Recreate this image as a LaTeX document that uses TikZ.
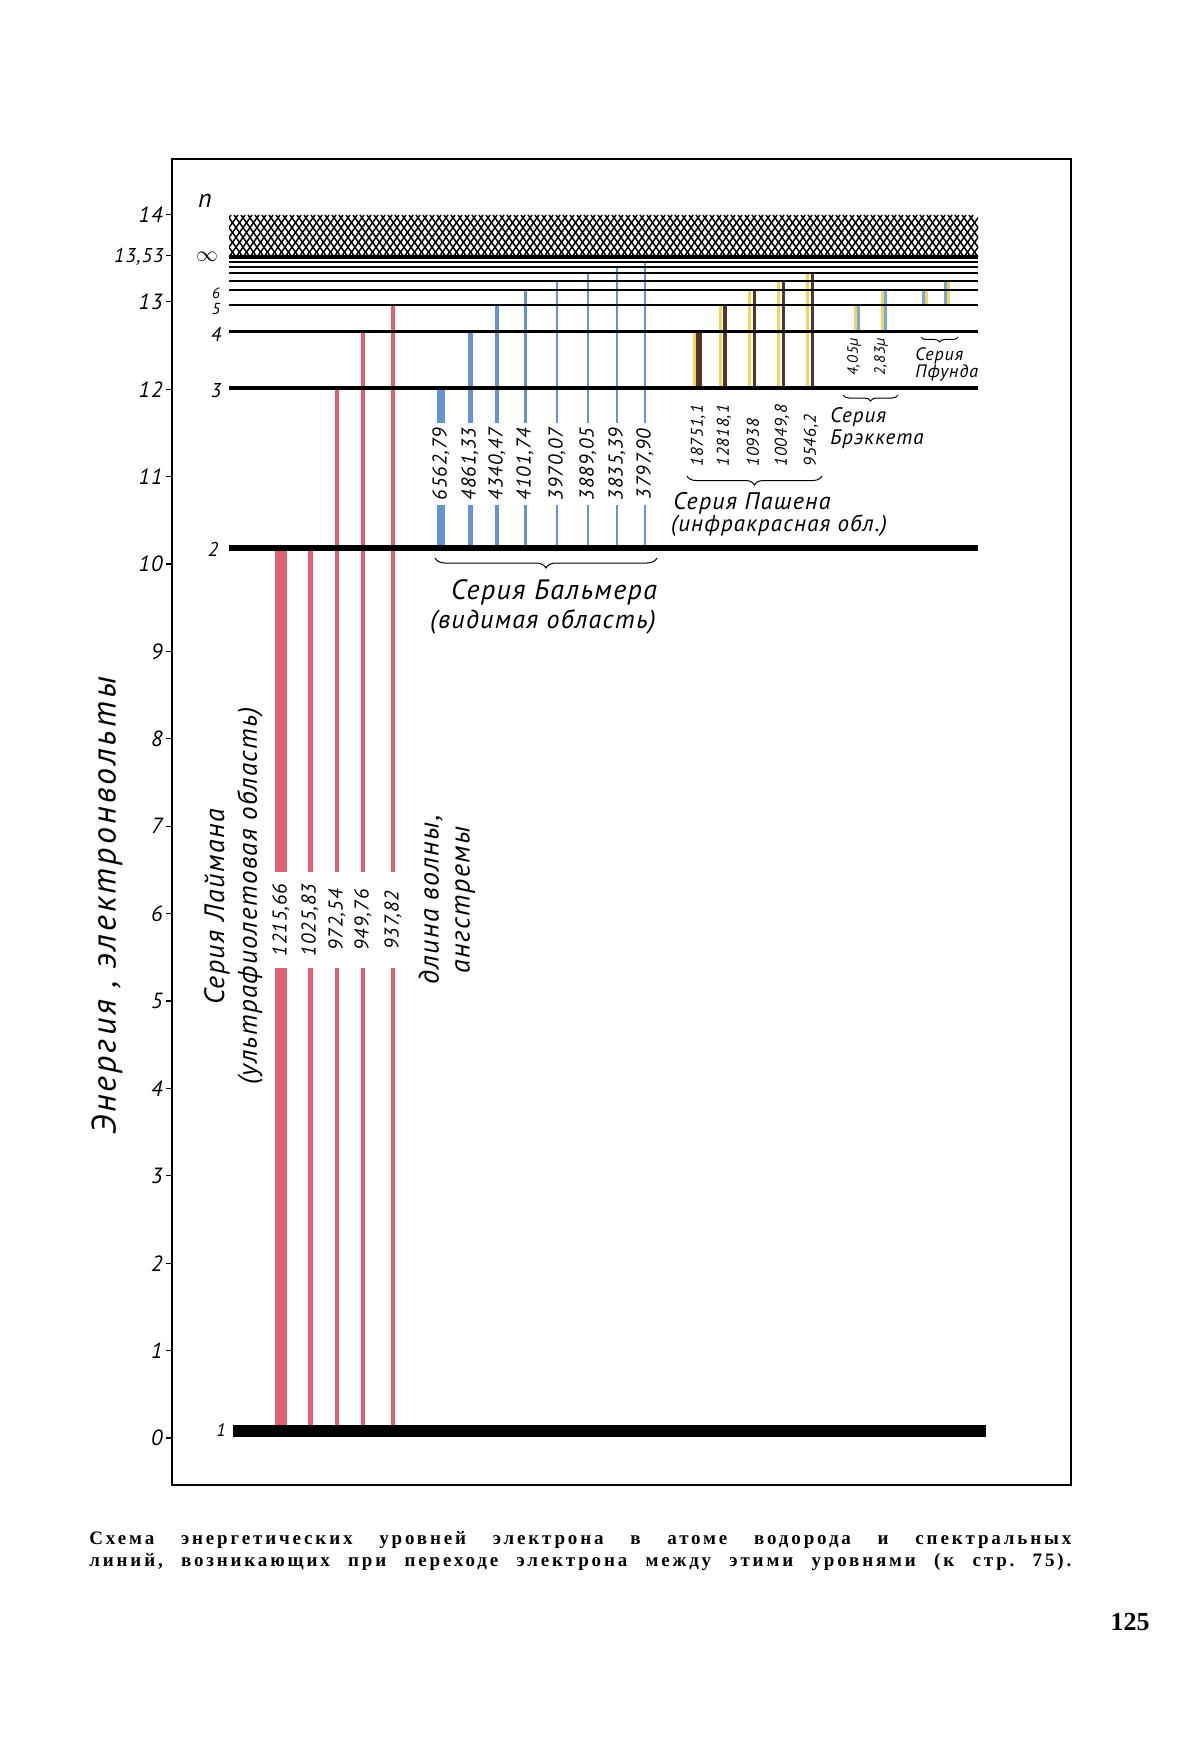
\documentclass[tikz,border=0pt]{standalone}
\usepackage{fontspec}
\setmainfont{Liberation Serif}
\newfontfamily\gost[LetterSpace=5]{PT Sans}
\usetikzlibrary{decorations.pathreplacing}

\definecolor{lyman}{RGB}{224,96,112}
\definecolor{balmer}{RGB}{98,148,212}
\definecolor{pbrown}{RGB}{88,52,40}
\definecolor{pyellow}{RGB}{242,214,92}
\definecolor{bblue}{RGB}{120,168,222}
\newcommand{\gf}[2]{\gost\itshape\fontsize{#1}{#2}\selectfont}

\begin{document}
\frenchspacing
\begin{tikzpicture}[x=0.5pt,y=-0.5pt,
    lbl/.style={inner sep=0pt,font=\gf{10}{10}},
    wave/.style={inner sep=0pt,rotate=90,font=\gf{10}{10}},
    brc/.style={decorate,decoration={brace,mirror,amplitude=#1},line width=0.5pt},
    hatch/.style={line width=0.75pt}]
\fill[white] (0,0) rectangle (1200,1738);
\useasboundingbox (0,0) rectangle (1200,1738);
\draw[line width=0.7pt] (172,159) rectangle (1071,1485);

% energy axis
\foreach \e in {0,...,14}{
  \draw[line width=0.6pt] (166,{1438-87.4*\e}) -- (173,{1438-87.4*\e});
  \node[lbl,anchor=east,font=\gf{11}{11}] (t\e) at (163,{1438-87.4*\e}) {\e};
}
\draw[line width=0.6pt] (166,255.5) -- (173,255.5);
\node[lbl,anchor=east] (tion) at (164,257) {13,53};
\node[lbl,rotate=90,font=\gf{17}{17}\addfontfeatures{LetterSpace=9}] (energy) at (107,906) {Энергия , электронвольты};

% continuum
\begin{scope}
  \clip (229,200) rectangle (978,258);
  \foreach \k in {-5,...,110}{
    \draw[hatch] ({229+7*\k},257) -- ++(30,-42);
    \draw[hatch] ({229+7*\k},257) -- ++(-30,-42);
  }
\end{scope}

% Lyman
\foreach \x/\yt/\w/\lab [count=\i] in {281/550/6pt/{1215,66},310/550/2.5pt/{1025,83},337/388/2pt/{972,54},363/332/2pt/{949,76},393/305/1.7pt/{937,82}}{
  \node[wave,minimum width=47.5pt] (ly\i) at (\x,920) {\lab};
  \draw[lyman,line width=\w] (\x,\yt) -- (ly\i.east);
  \draw[lyman,line width=\w] (ly\i.west) -- (\x,1428);
}
\node[lbl,rotate=90,font=\gf{14}{14}] (lyman) at (217,907) {Серия Лаймана};
\node[lbl,rotate=90,font=\gf{13.5}{13.5}] (lymanuv) at (250,896) {(ультрафиолетовая область)};
\node[lbl,rotate=90,align=center,font=\gf{14}{15.5}] (wl) at (447,900) {длина волны,\\ангстремы};

% Balmer
\foreach \x/\yt/\w/\lab [count=\i] in {441/389/4pt/{6562,79},470/333/2.5pt/{4861,33},497/306/2pt/{4340,47},525/291/1.5pt/{4101,74},557/282/1.4pt/{3970,07},588/274/1.4pt/{3889,05},617/268/1.4pt/{3835,39},645/263/1.4pt/{3797,90}}{
  \node[wave,minimum width=41pt] (ba\i) at (\x,464) {\lab};
  \draw[balmer,line width=\w] (\x,\yt) -- (ba\i.east);
  \draw[balmer,line width=\w] (ba\i.west) -- (\x,546);
}
\draw[brc=5pt] (435,558) -- (657,558);
\node[lbl,font=\gf{14}{14}] (balmername) at (554,592) {Серия Бальмера};
\node[lbl,font=\gf{13}{13}] (balmervis) at (543,622) {(видимая область)};

% Paschen
\foreach \x/\yt/\w/\lab [count=\i] in {699/332/3pt/{18751,1},725/305/2pt/{12818,1},754/290/1.5pt/{10938},783/281/1.5pt/{10049,8},812/273/1.5pt/{9546,2}}{
  \draw[pyellow,line width=1.2pt] ({\x-4.5},387) -- ({\x-4.5},\yt);
  \draw[pbrown,line width=\w] (\x,387) -- (\x,\yt);
  \node[wave,anchor=west,font=\gf{8.5}{8.5}] (pa\i) at ({\x-1},467) {\lab};
}
\draw[brc=4.5pt] (687,476) -- (822,476);
\node[lbl,font=\gf{12}{12}] (paschenname) at (752,503) {Серия Пашена};
\node[lbl,font=\gf{11.5}{11.5}] (paschenir) at (779,526) {(инфракрасная обл.)};

% Brackett
\foreach \x/\yt/\lab [count=\i] in {857/306/{4,05µ},884/291/{2,83µ}}{
  \draw[pyellow,line width=1.2pt] ({\x-1.6},331) -- ({\x-1.6},\yt);
  \draw[bblue,line width=1.2pt] ({\x+1.6},331) -- ({\x+1.6},\yt);
  \node[wave,anchor=east,font=\gf{7.5}{7.5}] (br\i) at ({\x-3},338) {\lab};
}
\draw[brc=3pt] (843,395) -- (898,395);
\node[lbl,align=left,anchor=west,font=\gf{10.5}{11}] (brackettname) at (830,428) {Серия\\Брэккета};

% Pfund
\foreach \x/\yt [count=\i] in {925/291,947/282}{
  \draw[bblue,line width=1.2pt] ({\x-1.6},304) -- ({\x-1.6},\yt);
  \draw[pyellow,line width=1.2pt] ({\x+1.6},304) -- ({\x+1.6},\yt);
}
\draw[brc=2.5pt] (921,337) -- (958,337);
\node[lbl,align=left,anchor=west,font=\gf{9}{8.5}] (pfundname) at (915,364) {Серия\\Пфунда};

% levels
\foreach \y/\w in {548/2.6pt,388/2.1pt,332/1.5pt,305/1.2pt,290/1pt,281/0.8pt,273/0.8pt,267/0.8pt,262/0.8pt,257/1.6pt}
  \draw[line width=\w] (229,\y) -- (978,\y);
\draw[line width=6pt] (233,1431) -- (986,1431);

\node[lbl,font=\gf{13}{13}] (nn) at (205,201) {n};
\node[lbl,font=\fontsize{11}{11}\selectfont] (ninf) at (207,257) {$\infty$};
\node[lbl,font=\gf{7.5}{7.5}] (n6) at (216,293) {6};
\node[lbl,font=\gf{8}{8}] (n5) at (216,309) {5};
\node[lbl,font=\gf{10}{10}] (n4) at (216,334) {4};
\node[lbl,font=\gf{10}{10}] (n3) at (216,391) {3};
\node[lbl,font=\gf{10}{10}] (n2) at (213,549) {2};
\node[lbl,font=\gf{9}{9}] (n1) at (221,1430) {1};

% caption
\node[anchor=west,inner sep=0pt,font=\bfseries\fontsize{9.5}{11}\selectfont\addfontfeatures{LetterSpace=15}] (cap1) at (89,1540)
  {\makebox[491pt][s]{Схема энергетических уровней электрона в атоме водорода и спектральных}};
\node[anchor=west,inner sep=0pt,font=\bfseries\fontsize{9.5}{11}\selectfont\addfontfeatures{LetterSpace=15}] (cap2) at (89,1562)
  {\makebox[491pt][s]{линий, возникающих при переходе электрона между этими уровнями (к стр. 75).}};
\node[inner sep=0pt,font=\bfseries\fontsize{13}{13}\selectfont] (page) at (1130,1622) {125};
\end{tikzpicture}
\end{document}
